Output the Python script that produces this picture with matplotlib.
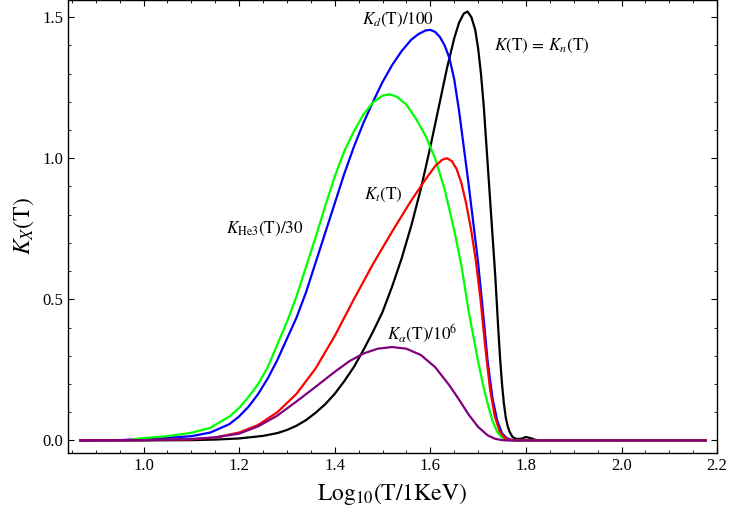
import numpy as np
import matplotlib
matplotlib.use("Agg")
import matplotlib.pyplot as plt
from matplotlib.ticker import MultipleLocator, FormatStrFormatter

plt.rcParams['font.family'] = ['Liberation Serif', 'DejaVu Serif']
plt.rcParams['mathtext.fontset'] = 'stix'

# K_n (black)
kn_x = [0.868, 1.0, 1.1, 1.15, 1.2, 1.25, 1.28, 1.3, 1.32, 1.34, 1.36, 1.38, 1.40, 1.42, 1.44,
        1.46, 1.48, 1.50, 1.52, 1.54, 1.56, 1.58, 1.60, 1.62, 1.635, 1.65, 1.66, 1.67, 1.678,
        1.686, 1.694, 1.70, 1.706, 1.712, 1.718, 1.724, 1.73, 1.736, 1.742, 1.746, 1.75,
        1.754, 1.758, 1.762, 1.766, 1.772, 1.78, 1.79, 1.80, 1.81, 1.82, 1.83, 2.176]
kn_y = [0.0, 0.0, 0.001, 0.003, 0.007, 0.016, 0.026, 0.037, 0.052, 0.072, 0.098, 0.128, 0.165,
        0.21, 0.26, 0.32, 0.385, 0.455, 0.545, 0.645, 0.76, 0.89, 1.04, 1.2, 1.32, 1.425, 1.48,
        1.513, 1.52, 1.50, 1.455, 1.39, 1.30, 1.18, 1.03, 0.88, 0.73, 0.58, 0.40, 0.29, 0.20,
        0.13, 0.08, 0.05, 0.03, 0.012, 0.005, 0.006, 0.012, 0.008, 0.002, 0.0, 0.0]

# K_d / 100 (blue)
kd_x = [0.868, 0.95, 1.0, 1.05, 1.10, 1.14, 1.18, 1.20, 1.22, 1.24, 1.26, 1.28, 1.30, 1.32,
        1.34, 1.36, 1.38, 1.40, 1.42, 1.44, 1.46, 1.48, 1.50, 1.52, 1.54, 1.56, 1.575, 1.59,
        1.60, 1.61, 1.62, 1.63, 1.64, 1.65, 1.66, 1.67, 1.68, 1.69, 1.70, 1.71, 1.72, 1.73,
        1.74, 1.75, 1.76, 1.77, 1.78, 2.176]
kd_y = [0.0, 0.001, 0.005, 0.009, 0.015, 0.028, 0.058, 0.085, 0.12, 0.165, 0.22, 0.285, 0.36,
        0.435, 0.525, 0.63, 0.735, 0.84, 0.945, 1.04, 1.125, 1.2, 1.27, 1.33, 1.38, 1.42,
        1.44, 1.453, 1.455, 1.448, 1.43, 1.40, 1.355, 1.28, 1.17, 1.04, 0.91, 0.77, 0.63,
        0.46, 0.28, 0.15, 0.07, 0.025, 0.008, 0.002, 0.0, 0.0]

# K_He3 / 30 (green)
khe_x = [0.978, 1.0, 1.05, 1.10, 1.14, 1.18, 1.20, 1.22, 1.24, 1.26, 1.28, 1.30, 1.32, 1.34,
         1.36, 1.38, 1.40, 1.42, 1.44, 1.46, 1.48, 1.50, 1.515, 1.53, 1.55, 1.57, 1.59, 1.61,
         1.63, 1.65, 1.665, 1.68, 1.69, 1.70, 1.71, 1.72, 1.73, 1.74, 1.75, 1.76, 1.77, 2.176]
khe_y = [0.004, 0.008, 0.015, 0.027, 0.045, 0.085, 0.115, 0.155, 0.2, 0.26, 0.34, 0.42, 0.51,
         0.615, 0.72, 0.83, 0.935, 1.025, 1.095, 1.155, 1.198, 1.222, 1.227, 1.218, 1.19, 1.14,
         1.08, 1.00, 0.89, 0.745, 0.62, 0.46, 0.37, 0.28, 0.20, 0.13, 0.07, 0.03, 0.01, 0.002,
         0.0, 0.0]

# K_t (red)
kt_x = [0.868, 1.0, 1.1, 1.15, 1.2, 1.24, 1.28, 1.32, 1.36, 1.40, 1.44, 1.48, 1.52, 1.56, 1.59,
        1.61, 1.625, 1.635, 1.645, 1.655, 1.665, 1.675, 1.685, 1.695, 1.705, 1.715, 1.725,
        1.735, 1.745, 1.755, 1.765, 1.78, 2.176]
kt_y = [0.0, 0.001, 0.004, 0.01, 0.028, 0.055, 0.1, 0.165, 0.255, 0.37, 0.5, 0.625, 0.74,
        0.85, 0.925, 0.972, 0.995, 1.0, 0.99, 0.962, 0.912, 0.84, 0.75, 0.64, 0.5, 0.33, 0.18,
        0.085, 0.032, 0.01, 0.002, 0.0, 0.0]

# K_alpha / 1e6 (purple)
ka_x = [0.868, 1.0, 1.1, 1.15, 1.2, 1.24, 1.28, 1.32, 1.36, 1.40, 1.43, 1.46, 1.49, 1.52, 1.55,
        1.58, 1.61, 1.64, 1.66, 1.68, 1.70, 1.72, 1.735, 1.75, 1.76, 2.176]
ka_y = [0.0, 0.001, 0.005, 0.011, 0.024, 0.05, 0.088, 0.138, 0.19, 0.243, 0.28, 0.308, 0.325,
        0.331, 0.325, 0.303, 0.26, 0.195, 0.145, 0.092, 0.048, 0.018, 0.006, 0.001, 0.0, 0.0]

labels = [r"$K_d(\mathrm{T})/100$", r"$K(\mathrm{T})\,=\,K_n(\mathrm{T})$", r"$K_t(\mathrm{T})$",
          r"$K_{\mathrm{He3}}(\mathrm{T})/30$", r"$K_\alpha(\mathrm{T})/10^6$"]
label_x = [1.533, 1.832, 1.502, 1.253, 1.583]
label_y = [1.49, 1.40, 0.87, 0.751, 0.377]

fig = plt.figure(figsize=(7.31, 5.14), dpi=100)
ax = fig.add_axes([0.093, 0.119, 0.888, 0.881])

lw = 1.6
ax.plot(kn_x, kn_y, color="black", lw=lw)
ax.plot(kd_x, kd_y, color="#0000ff", lw=lw)
ax.plot(khe_x, khe_y, color="#00ff00", lw=lw)
ax.plot(kt_x, kt_y, color="#ff0000", lw=lw)
ax.plot(ka_x, ka_y, color="#800080", lw=lw)

for s, lx, ly in zip(labels, label_x, label_y):
    ax.text(lx, ly, s, fontsize=12.3, ha="center", va="center")

ax.set_xlim(0.842, 2.2)
ax.set_ylim(-0.044, 1.561)
ax.xaxis.set_major_locator(MultipleLocator(0.2))
ax.xaxis.set_minor_locator(MultipleLocator(0.05))
ax.yaxis.set_major_locator(MultipleLocator(0.5))
ax.yaxis.set_minor_locator(MultipleLocator(0.1))
ax.tick_params(which="both", direction="in", top=True, right=True, labelsize=12)
ax.tick_params(which="major", length=4.5, width=0.8)
ax.tick_params(which="minor", length=2.3, width=0.6)
ax.xaxis.set_major_formatter(FormatStrFormatter("%.1f"))
ax.yaxis.set_major_formatter(FormatStrFormatter("%.1f"))
for sp in ax.spines.values():
    sp.set_linewidth(1.0)

ax.set_xlabel(r"$\mathrm{Log}_{10}(\mathrm{T/1KeV})$", fontsize=17)
ax.xaxis.set_label_coords(0.5, -0.062)
ax.set_ylabel(r"$K_X(\mathrm{T})$", fontsize=17)
ax.yaxis.set_label_coords(-0.05, 0.5)

fig.savefig("out.png", dpi=100)
